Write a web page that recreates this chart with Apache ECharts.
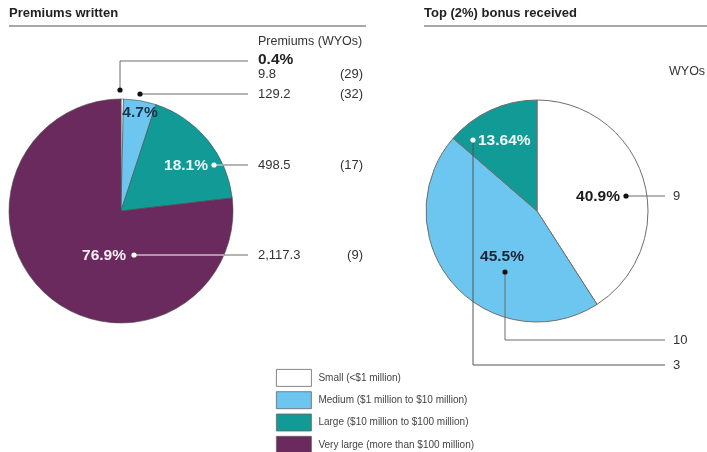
<!DOCTYPE html>
<html>
<head>
<meta charset="utf-8">
<title>Premiums written and top bonus received</title>
<script src="https://cdn.jsdelivr.net/npm/echarts@6/dist/echarts.min.js"></script>
<style>
  html, body { margin: 0; padding: 0; background: #fff; }
  #chart { width: 707px; height: 452px; }
</style>
</head>
<body>
<div id="chart"></div>
<script>
// Size classes (shared by both pies and the legend)
const categories = ['Small (<$1 million)', 'Medium ($1 million to $10 million)',
  'Large ($10 million to $100 million)', 'Very large (more than $100 million)'];
const categoryColors = ['#ffffff', '#6dc6ef', '#129a96', '#6a2a5d'];

// Premiums written, by size class, and the number of WYOs in each class
const premiums = [9.8, 129.2, 498.5, 2117.3];
const premiumWyos = [29, 32, 17, 9];
const premiumDecimals = [1, 1, 1, 1];

// WYOs receiving the top (2%) bonus, by size class
const bonusWyos = [9, 10, 3];
const bonusDecimals = [1, 1, 2];

const FONT = '"Liberation Sans", Arial, Helvetica, sans-serif';

function pctLabels(values, decimals) {
  const total = values.reduce((a, b) => a + b, 0);
  return values.map((v, i) => (v / total * 100).toFixed(decimals[i]) + '%');
}
function fmtNum(v) {
  return v.toLocaleString('en-US', { minimumFractionDigits: 1, maximumFractionDigits: 1 });
}

const premiumPct = pctLabels(premiums, premiumDecimals);
const bonusPct = pctLabels(bonusWyos, bonusDecimals);

// Pie geometry
const leftPie = { cx: 121, cy: 211, r: 112 };
const rightPie = { cx: 537, cy: 211, r: 111 };

const graphics = [];
function text(x, y, str, opts) {
  opts = opts || {};
  graphics.push({
    type: 'text', silent: true, z: 10,
    x: x, y: y,
    style: {
      text: str, fill: opts.color || '#333',
      font: (opts.weight || 'normal') + ' ' + (opts.size || 13) + 'px ' + FONT,
      textAlign: opts.align || 'left', textVerticalAlign: 'middle'
    }
  });
}
function poly(points, color, width) {
  graphics.push({
    type: 'polyline', silent: true, z: 8,
    shape: { points: points },
    style: { stroke: color || '#6a6a6a', lineWidth: width || 1, fill: null }
  });
}
function dot(x, y, color) {
  graphics.push({
    type: 'circle', silent: true, z: 9,
    shape: { cx: x, cy: y, r: 2.6 },
    style: { fill: color || '#111' }
  });
}
function edgeX(p, y) {
  const dy = y - p.cy;
  return p.cx + Math.sqrt(p.r * p.r - dy * dy);
}

const PCT_SIZE = 15.5;

// Panel titles and rules
text(9, 13, 'Premiums written', { weight: 'bold', size: 13, color: '#222' });
text(424, 13, 'Top (2%) bonus received', { weight: 'bold', size: 13, color: '#222' });
poly([[9, 26], [366, 26]], '#8a8a8a', 1.5);
poly([[424, 26], [707, 26]], '#8a8a8a', 1.5);

// Left panel: column header and rows
const valueX = 258, countX = 363, lineEnd = 248;
text(valueX, 42, 'Premiums (WYOs)', { size: 12.5 });
const premiumRowY = [74, 94, 165, 255];
premiums.forEach((v, i) => {
  text(valueX, premiumRowY[i], fmtNum(v));
  text(countX, premiumRowY[i], '(' + premiumWyos[i] + ')', { align: 'right' });
});
text(valueX, 60, premiumPct[0], { weight: 'bold', size: PCT_SIZE, color: '#222' });

// Left panel leader lines
dot(120, 90);
poly([[120, 90], [120, 61], [lineEnd, 61]]);
dot(140, 94);
poly([[140, 94], [lineEnd, 94]]);
poly([[214, 165], [edgeX(leftPie, 165), 165]], '#d9f2f1');
poly([[edgeX(leftPie, 165), 165], [lineEnd, 165]]);
dot(214, 165, '#fff');
poly([[134, 255], [edgeX(leftPie, 255), 255]], '#ffffff');
poly([[edgeX(leftPie, 255), 255], [lineEnd, 255]]);
dot(134, 255, '#fff');

// Left panel percentage labels
text(140, 113, premiumPct[1], { weight: 'bold', size: PCT_SIZE, color: '#1d3148', align: 'center' });
text(208, 166, premiumPct[2], { weight: 'bold', size: PCT_SIZE, color: '#e6f7f7', align: 'right' });
text(126, 256, premiumPct[3], { weight: 'bold', size: PCT_SIZE, color: '#f6eef5', align: 'right' });

// Right panel: column header and rows
const bonusX = 673, bonusLineEnd = 665;
text(669, 72, 'WYOs', { size: 12.5 });
const bonusRowY = [196, 340, 365];
bonusWyos.forEach((v, i) => text(bonusX, bonusRowY[i], String(v)));

// Right panel leader lines
dot(626, 196);
poly([[626, 196], [bonusLineEnd, 196]]);
dot(505, 272);
poly([[505, 272], [505, 340], [bonusLineEnd, 340]]);
poly([[473, 140], [473, 365], [bonusLineEnd, 365]], '#555');
dot(473, 140, '#fff');

// Right panel percentage labels
text(620, 197, bonusPct[0], { weight: 'bold', size: PCT_SIZE, color: '#1a1a1a', align: 'right' });
text(502, 257, bonusPct[1], { weight: 'bold', size: PCT_SIZE, color: '#1a2533', align: 'center' });
text(478, 141, bonusPct[2], { weight: 'bold', size: PCT_SIZE, color: '#f0fafa' });

function pieData(values) {
  return values.map((v, i) => ({
    name: categories[i], value: v,
    itemStyle: { color: categoryColors[i] }
  }));
}

const chart = echarts.init(document.getElementById('chart'), null, { renderer: 'canvas' });
chart.setOption({
  animation: false,
  backgroundColor: '#ffffff',
  textStyle: { fontFamily: FONT },
  legend: {
    orient: 'vertical',
    left: 276, top: 369,
    padding: 0,
    height: 90,
    itemWidth: 35, itemHeight: 17, itemGap: 4.5,
    icon: 'rect',
    selectedMode: false,
    data: categories,
    itemStyle: { borderColor: '#666', borderWidth: 0.8 },
    textStyle: { fontSize: 10, color: '#444', fontFamily: FONT, padding: [0, 0, 0, 2] }
  },
  series: [
    {
      type: 'pie', name: 'Premiums written',
      center: [leftPie.cx, leftPie.cy], radius: leftPie.r,
      startAngle: 90, clockwise: true, silent: true,
      label: { show: false }, labelLine: { show: false },
      emphasis: { disabled: true },
      itemStyle: { borderColor: '#4d4d4d', borderWidth: 0.6 },
      data: pieData(premiums)
    },
    {
      type: 'pie', name: 'Top (2%) bonus received',
      center: [rightPie.cx, rightPie.cy], radius: rightPie.r,
      startAngle: 90, clockwise: true, silent: true,
      label: { show: false }, labelLine: { show: false },
      emphasis: { disabled: true },
      itemStyle: { borderColor: '#6e6e6e', borderWidth: 1 },
      data: pieData(bonusWyos)
    }
  ],
  graphic: graphics
});
</script>
</body>
</html>
